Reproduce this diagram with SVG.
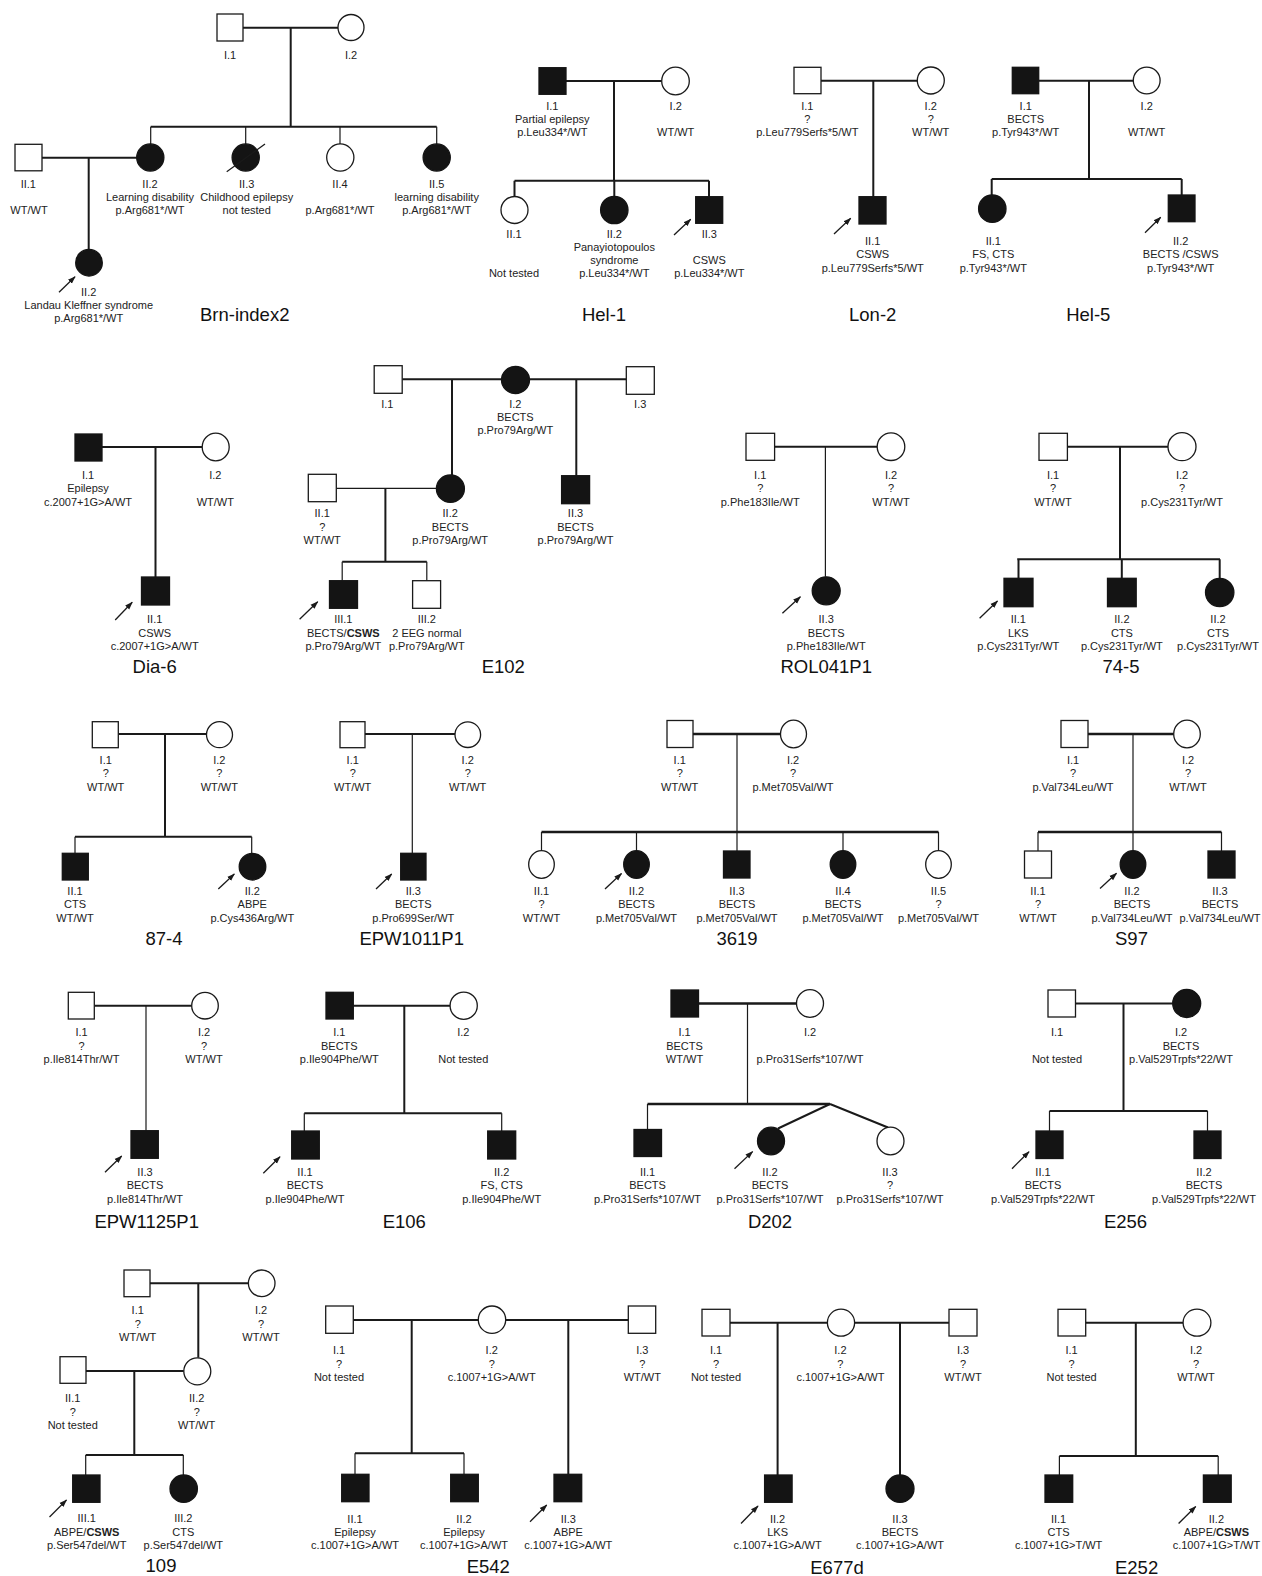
<svg xmlns="http://www.w3.org/2000/svg" width="1262" height="1576" viewBox="0 0 1262 1576">
<style>
.o{fill:#fff;stroke:#1a1a1a;stroke-width:1.3}
.f{fill:#141414;stroke:#141414;stroke-width:1.3}
.k{fill:none;stroke:#1a1a1a;stroke-width:2}
.h{fill:none;stroke:#1a1a1a;stroke-width:1.2}
.w{fill:none;stroke:#1a1a1a;stroke-width:2.6}
.a{fill:none;stroke:#1a1a1a;stroke-width:1.3;marker-end:url(#ah)}
.lb{font-family:"Liberation Sans",Arial,sans-serif;font-size:11px;fill:#222;text-anchor:middle}
.ti{font-family:"Liberation Sans",Arial,sans-serif;font-size:18.5px;fill:#111;text-anchor:middle}
.b{font-weight:bold}
</style>
<defs>
<marker id="ah" viewBox="0 0 10 10" refX="9" refY="5" markerWidth="8" markerHeight="8" markerUnits="userSpaceOnUse" orient="auto"><path d="M0,1.5 L10,5 L0,8.5 z" fill="#1a1a1a"/></marker>
</defs>
<rect width="1262" height="1576" fill="#fff"/>

<g id="connectors">
<!-- Brn-index2 -->
<path class="k" d="M243 27.7H338M290.7 27.7V126.7M150.7 126.7H436.7M42 157.7H137M88.7 157.7V249.4"/>
<path class="h" d="M150.7 126.7V144M245.7 126.7V144M340 126.7V144M436.7 126.7V144"/>
<line class="a" x1="59" y1="292.3" x2="75" y2="276.7"/>
<!-- Hel-1 -->
<path class="k" d="M566 81H661.7M614 81V180.7M514.5 180.7H709M514.5 180.7V196.5M614.3 180.7V196.3M709 180.7V196.7"/>
<line class="a" x1="674" y1="235" x2="690.7" y2="219.3"/>
<!-- Lon-2 -->
<path class="k" d="M821 80.7H917.3M873.3 80.7V196.7"/>
<line class="a" x1="834" y1="234" x2="850.7" y2="218.3"/>
<!-- Hel-5 -->
<path class="k" d="M1038.7 80.7H1133.3M1089 80.7V179M991.7 179H1181.7M991.7 179V195M1181.7 179V195"/>
<line class="a" x1="1145" y1="232.7" x2="1160.7" y2="217.3"/>
<!-- Dia-6 -->
<path class="k" d="M102 447H202M155.5 447V577"/>
<line class="a" x1="115.2" y1="620" x2="132.2" y2="602.3"/>
<!-- E102 -->
<path class="k" d="M402.2 379.3H501.5M529.5 379.3H626.3M452 379.3V475M576.3 379.3V475.7M385.4 488.3V561.7M342.2 561.7H426.8"/>
<path class="h" d="M336.3 488.3H436.4M342.2 561.7V580.7M426.8 561.7V580.7"/>
<line class="a" x1="299.6" y1="619.3" x2="317.7" y2="601.7"/>
<!-- ROL041P1 -->
<path class="k" d="M774.6 446.7H877.2"/>
<path class="h" d="M825.4 446.7V576.8"/>
<line class="a" x1="782.4" y1="613.3" x2="800.4" y2="596.7"/>
<!-- 74-5 -->
<path class="k" d="M1067.4 446.7H1168M1120 446.7V559.3M1017.2 559.3H1220M1018.5 559.3V578.3M1121.8 559.3V578.3M1219.7 559.3V578.3"/>
<line class="a" x1="979.6" y1="618.3" x2="997.5" y2="601"/>
<!-- 87-4 -->
<path class="k" d="M118.3 734H206.5M165 734V836.7M75 836.7H251.7"/>
<path class="h" d="M75 836.7V853.3M251.7 836.7V853.4"/>
<line class="a" x1="218.3" y1="889" x2="234.3" y2="874"/>
<!-- EPW1011P1 -->
<path class="k" d="M365 734H455"/>
<path class="h" d="M412.3 734V853.3"/>
<line class="a" x1="376" y1="889" x2="391.7" y2="874"/>
<!-- 3619 -->
<path class="w" d="M693 734H780.5M541.5 832H938.5"/>
<path class="h" d="M737 734V832M541.5 832V850.7M636.5 832V850.7M737 832V851M843 832V850.7M938.5 832V850.7"/>
<line class="a" x1="605" y1="889" x2="621.5" y2="873.5"/>
<!-- S97 -->
<path class="w" d="M1088 734H1173.7M1038 832H1221.5"/>
<path class="h" d="M1133 734V832M1038 832V851M1133 832V850.7M1221.5 832V851"/>
<line class="a" x1="1100" y1="888.5" x2="1116.5" y2="873.3"/>
<!-- EPW1125P1 -->
<path class="k" d="M94.3 1005.7H191.7"/>
<path class="h" d="M146 1005.7V1130.7"/>
<line class="a" x1="105" y1="1172.3" x2="121.7" y2="1156"/>
<!-- E106 -->
<path class="k" d="M353.3 1005.7H450M404.3 1005.7V1113.3M304.3 1113.3H501.7"/>
<path class="h" d="M304.3 1113.3V1131M501.7 1113.3V1131"/>
<line class="a" x1="263.3" y1="1173.3" x2="280" y2="1156.7"/>
<!-- D202 -->
<path class="w" d="M698.5 1003.5H796.5M647.5 1104H830"/>
<path class="h" d="M747.5 1003.5V1104M647.5 1104V1129.5"/>
<path class="k" d="M830 1104L778 1128.5M830 1104L888 1127.5"/>
<line class="a" x1="734.5" y1="1168.7" x2="752.6" y2="1151.6"/>
<!-- E256 -->
<path class="k" d="M1075.5 1003.5H1172.7M1123.5 1003.5V1111M1049.5 1111H1207.5"/>
<path class="h" d="M1049.5 1111V1131M1207.5 1111V1131"/>
<line class="a" x1="1012" y1="1168.7" x2="1029" y2="1151.7"/>
<!-- 109 -->
<path class="k" d="M150 1283.3H248.4M198.3 1283.3V1357.8M86 1371H183.8M134.3 1371V1455M85.7 1455H183.3"/>
<path class="h" d="M85.7 1455V1475M183.3 1455V1475"/>
<line class="a" x1="49.5" y1="1517" x2="66.5" y2="1500"/>
<!-- E542 -->
<path class="k" d="M353.3 1320H478.3M505.7 1320H628.3M411.7 1320V1453.3M355 1453.3H464M568.3 1320V1474.3"/>
<path class="h" d="M355 1453.3V1474.3M464 1453.3V1474.3"/>
<line class="a" x1="530" y1="1521.7" x2="546.7" y2="1505"/>
<!-- E677d -->
<path class="k" d="M730 1322.7H827.4M854.6 1322.7H949M777.6 1322.7V1475M900 1322.7V1475"/>
<line class="a" x1="741" y1="1523.5" x2="758" y2="1506"/>
<!-- E252 -->
<path class="k" d="M1085.7 1322.7H1183M1135.8 1322.7V1456M1059.4 1456H1218.2"/>
<path class="h" d="M1059.4 1456V1475M1218.2 1456V1475"/>
<line class="a" x1="1178.6" y1="1523.5" x2="1195.7" y2="1506.5"/>
</g>

<!-- ===== Brn-index2 ===== -->
<g id="brn-I1"><rect class="o" x="217" y="14" width="26" height="27"/><text class="lb"><tspan x="230" y="58.7">I.1</tspan></text></g>
<g id="brn-I2"><circle class="o" cx="351" cy="27.5" r="13"/><text class="lb"><tspan x="351" y="58.7">I.2</tspan></text></g>
<g id="brn-II1"><rect class="o" x="15" y="144.3" width="27" height="26.5"/><text class="lb"><tspan x="28.3" y="187.7">II.1</tspan><tspan x="29" y="214.3">WT/WT</tspan></text></g>
<g id="brn-II2"><circle class="f" cx="150.3" cy="157.5" r="13.6"/><text class="lb"><tspan x="150" y="187.7">II.2</tspan><tspan x="150" y="201">Learning disability</tspan><tspan x="150" y="214.3">p.Arg681*/WT</tspan></text></g>
<g id="brn-II3"><circle class="f" cx="245.7" cy="157.5" r="13.6"/><line class="h" x1="226.7" y1="171.7" x2="265" y2="144"/><text class="lb"><tspan x="246.7" y="187.7">II.3</tspan><tspan x="246.7" y="201">Childhood epilepsy</tspan><tspan x="246.7" y="214.3">not tested</tspan></text></g>
<g id="brn-II4"><circle class="o" cx="340.3" cy="157.5" r="13.6"/><text class="lb"><tspan x="340" y="187.7">II.4</tspan><tspan x="340" y="214.3">p.Arg681*/WT</tspan></text></g>
<g id="brn-II5"><circle class="f" cx="436.7" cy="157.5" r="13.6"/><text class="lb"><tspan x="436.7" y="187.7">II.5</tspan><tspan x="436.7" y="201">learning disability</tspan><tspan x="436.7" y="214.3">p.Arg681*/WT</tspan></text></g>
<g id="brn-child-II2"><circle class="f" cx="89" cy="262.7" r="13.3"/><text class="lb"><tspan x="88.7" y="295.7">II.2</tspan><tspan x="88.7" y="309">Landau Kleffner syndrome</tspan><tspan x="88.7" y="322.3">p.Arg681*/WT</tspan></text></g>
<text class="ti" x="244.7" y="320.7">Brn-index2</text>

<!-- ===== Hel-1 ===== -->
<g id="hel1-I1"><rect class="f" x="539" y="67.7" width="27" height="26.6"/><text class="lb"><tspan x="552.3" y="109.7">I.1</tspan><tspan x="552.3" y="122.7">Partial epilepsy</tspan><tspan x="552.3" y="135.7">p.Leu334*/WT</tspan></text></g>
<g id="hel1-I2"><circle class="o" cx="675.5" cy="81" r="13.8"/><text class="lb"><tspan x="675.7" y="109.7">I.2</tspan><tspan x="675.7" y="135.7">WT/WT</tspan></text></g>
<g id="hel1-II1"><circle class="o" cx="514.5" cy="210" r="13.5"/><text class="lb"><tspan x="514" y="238.3">II.1</tspan><tspan x="514" y="277.3">Not tested</tspan></text></g>
<g id="hel1-II2"><circle class="f" cx="614.3" cy="210" r="13.7"/><text class="lb"><tspan x="614.3" y="238.3">II.2</tspan><tspan x="614.3" y="251.3">Panayiotopoulos</tspan><tspan x="614.3" y="264.3">syndrome</tspan><tspan x="614.3" y="277.3">p.Leu334*/WT</tspan></text></g>
<g id="hel1-II3"><rect class="f" x="695.7" y="196.7" width="27" height="26.6"/><text class="lb"><tspan x="709.3" y="238.3">II.3</tspan><tspan x="709.3" y="264.3">CSWS</tspan><tspan x="709.3" y="277.3">p.Leu334*/WT</tspan></text></g>
<text class="ti" x="604" y="320.7">Hel-1</text>

<!-- ===== Lon-2 ===== -->
<g id="lon2-I1"><rect class="o" x="794" y="67.3" width="27" height="26.4"/><text class="lb"><tspan x="807.3" y="110">I.1</tspan><tspan x="807.3" y="123">?</tspan><tspan x="807.3" y="136">p.Leu779Serfs*5/WT</tspan></text></g>
<g id="lon2-I2"><circle class="o" cx="930.8" cy="80.5" r="13.5"/><text class="lb"><tspan x="930.7" y="110">I.2</tspan><tspan x="930.7" y="123">?</tspan><tspan x="930.7" y="136">WT/WT</tspan></text></g>
<g id="lon2-II1"><rect class="f" x="859" y="196.7" width="27" height="27.3"/><text class="lb"><tspan x="872.7" y="245">II.1</tspan><tspan x="872.7" y="258.3">CSWS</tspan><tspan x="872.7" y="271.7">p.Leu779Serfs*5/WT</tspan></text></g>
<text class="ti" x="872.7" y="320.7">Lon-2</text>

<!-- ===== Hel-5 ===== -->
<g id="hel5-I1"><rect class="f" x="1012.3" y="67.3" width="26.4" height="26.4"/><text class="lb"><tspan x="1025.7" y="110">I.1</tspan><tspan x="1025.7" y="123">BECTS</tspan><tspan x="1025.7" y="136">p.Tyr943*/WT</tspan></text></g>
<g id="hel5-I2"><circle class="o" cx="1146.7" cy="80.5" r="13.4"/><text class="lb"><tspan x="1146.7" y="110">I.2</tspan><tspan x="1146.7" y="136">WT/WT</tspan></text></g>
<g id="hel5-II1"><circle class="f" cx="992.3" cy="208.7" r="13.7"/><text class="lb"><tspan x="993.3" y="245">II.1</tspan><tspan x="993.3" y="258.3">FS, CTS</tspan><tspan x="993.3" y="271.7">p.Tyr943*/WT</tspan></text></g>
<g id="hel5-II2"><rect class="f" x="1168.3" y="195" width="26.7" height="26.7"/><text class="lb"><tspan x="1180.7" y="245">II.2</tspan><tspan x="1180.7" y="258.3">BECTS /CSWS</tspan><tspan x="1180.7" y="271.7">p.Tyr943*/WT</tspan></text></g>
<text class="ti" x="1088.3" y="320.7">Hel-5</text>

<!-- ===== Dia-6 ===== -->
<g id="dia6-I1"><rect class="f" x="75" y="434" width="27" height="27"/><text class="lb"><tspan x="88" y="479">I.1</tspan><tspan x="88" y="492.3">Epilepsy</tspan><tspan x="88" y="505.7">c.2007+1G&gt;A/WT</tspan></text></g>
<g id="dia6-I2"><ellipse class="o" cx="215.7" cy="447" rx="13.5" ry="13.8"/><text class="lb"><tspan x="215.3" y="479">I.2</tspan><tspan x="215.3" y="505.7">WT/WT</tspan></text></g>
<g id="dia6-II1"><rect class="f" x="141.5" y="577" width="28" height="28"/><text class="lb"><tspan x="154.7" y="623">II.1</tspan><tspan x="154.7" y="636.5">CSWS</tspan><tspan x="154.7" y="650">c.2007+1G&gt;A/WT</tspan></text></g>
<text class="ti" x="154.7" y="673.3">Dia-6</text>

<!-- ===== E102 ===== -->
<g id="e102-I1"><rect class="o" x="374.2" y="365.7" width="28" height="27.6"/><text class="lb"><tspan x="387.3" y="407.7">I.1</tspan></text></g>
<g id="e102-I2"><ellipse class="f" cx="515.5" cy="380" rx="14" ry="13.5"/><text class="lb"><tspan x="515.3" y="407.7">I.2</tspan><tspan x="515.3" y="421">BECTS</tspan><tspan x="515.3" y="434.3">p.Pro79Arg/WT</tspan></text></g>
<g id="e102-I3"><rect class="o" x="626.3" y="366.7" width="28" height="27.6"/><text class="lb"><tspan x="640.2" y="407.7">I.3</tspan></text></g>
<g id="e102-II1"><rect class="o" x="308.3" y="474.3" width="28" height="27.4"/><text class="lb"><tspan x="322.2" y="517.3">II.1</tspan><tspan x="322.2" y="530.7">?</tspan><tspan x="322.2" y="544">WT/WT</tspan></text></g>
<g id="e102-II2"><ellipse class="f" cx="450.4" cy="488.7" rx="14" ry="13.7"/><text class="lb"><tspan x="450.2" y="517.3">II.2</tspan><tspan x="450.2" y="530.7">BECTS</tspan><tspan x="450.2" y="544">p.Pro79Arg/WT</tspan></text></g>
<g id="e102-II3"><rect class="f" x="561.6" y="475.7" width="28" height="28"/><text class="lb"><tspan x="575.5" y="517.3">II.3</tspan><tspan x="575.5" y="530.7">BECTS</tspan><tspan x="575.5" y="544">p.Pro79Arg/WT</tspan></text></g>
<g id="e102-III1"><rect class="f" x="329.5" y="580.7" width="28" height="27.6"/><text class="lb"><tspan x="343.3" y="623.3">III.1</tspan><tspan x="343.3" y="636.7">BECTS/<tspan class="b">CSWS</tspan></tspan><tspan x="343.3" y="650">p.Pro79Arg/WT</tspan></text></g>
<g id="e102-III2"><rect class="o" x="412.6" y="580.7" width="28" height="27.6"/><text class="lb"><tspan x="426.8" y="623.3">III.2</tspan><tspan x="426.8" y="636.7">2 EEG normal</tspan><tspan x="426.8" y="650">p.Pro79Arg/WT</tspan></text></g>
<text class="ti" x="503.3" y="673.3">E102</text>

<!-- ===== ROL041P1 ===== -->
<g id="rol-I1"><rect class="o" x="746" y="433.3" width="28.6" height="27"/><text class="lb"><tspan x="760.2" y="479">I.1</tspan><tspan x="760.2" y="492.3">?</tspan><tspan x="760.2" y="505.7">p.Phe183Ile/WT</tspan></text></g>
<g id="rol-I2"><circle class="o" cx="891" cy="446.7" r="13.8"/><text class="lb"><tspan x="891" y="479">I.2</tspan><tspan x="891" y="492.3">?</tspan><tspan x="891" y="505.7">WT/WT</tspan></text></g>
<g id="rol-II3"><circle class="f" cx="826.2" cy="590.8" r="14"/><text class="lb"><tspan x="826.2" y="623">II.3</tspan><tspan x="826.2" y="636.5">BECTS</tspan><tspan x="826.2" y="650">p.Phe183Ile/WT</tspan></text></g>
<text class="ti" x="826.2" y="673.3">ROL041P1</text>

<!-- ===== 74-5 ===== -->
<g id="p745-I1"><rect class="o" x="1039" y="433.3" width="28.4" height="27"/><text class="lb"><tspan x="1053" y="479">I.1</tspan><tspan x="1053" y="492.3">?</tspan><tspan x="1053" y="505.7">WT/WT</tspan></text></g>
<g id="p745-I2"><circle class="o" cx="1182" cy="446.7" r="14"/><text class="lb"><tspan x="1182" y="479">I.2</tspan><tspan x="1182" y="492.3">?</tspan><tspan x="1182" y="505.7">p.Cys231Tyr/WT</tspan></text></g>
<g id="p745-II1"><rect class="f" x="1004" y="578.3" width="29" height="28.4"/><text class="lb"><tspan x="1018.3" y="623">II.1</tspan><tspan x="1018.3" y="636.5">LKS</tspan><tspan x="1018.3" y="650">p.Cys231Tyr/WT</tspan></text></g>
<g id="p745-II2"><rect class="f" x="1107.5" y="578.3" width="28.7" height="28.4"/><text class="lb"><tspan x="1121.9" y="623">II.2</tspan><tspan x="1121.9" y="636.5">CTS</tspan><tspan x="1121.9" y="650">p.Cys231Tyr/WT</tspan></text></g>
<g id="p745-II2b"><ellipse class="f" cx="1219.7" cy="592.5" rx="14.2" ry="14.2"/><text class="lb"><tspan x="1218" y="623">II.2</tspan><tspan x="1218" y="636.5">CTS</tspan><tspan x="1218" y="650">p.Cys231Tyr/WT</tspan></text></g>
<text class="ti" x="1121" y="673.3">74-5</text>

<!-- ===== 87-4 ===== -->
<g id="p874-I1"><rect class="o" x="92.3" y="721.7" width="26" height="26"/><text class="lb"><tspan x="105.7" y="763.5">I.1</tspan><tspan x="105.7" y="777">?</tspan><tspan x="105.7" y="790.5">WT/WT</tspan></text></g>
<g id="p874-I2"><circle class="o" cx="219.5" cy="734.7" r="13"/><text class="lb"><tspan x="219.3" y="763.5">I.2</tspan><tspan x="219.3" y="777">?</tspan><tspan x="219.3" y="790.5">WT/WT</tspan></text></g>
<g id="p874-II1"><rect class="f" x="62.3" y="853.3" width="26" height="26.7"/><text class="lb"><tspan x="75" y="894.5">II.1</tspan><tspan x="75" y="908">CTS</tspan><tspan x="75" y="921.5">WT/WT</tspan></text></g>
<g id="p874-II2"><circle class="f" cx="252.5" cy="866.7" r="13.3"/><text class="lb"><tspan x="252.3" y="894.5">II.2</tspan><tspan x="252.3" y="908">ABPE</tspan><tspan x="252.3" y="921.5">p.Cys436Arg/WT</tspan></text></g>
<text class="ti" x="164" y="945">87-4</text>

<!-- ===== EPW1011P1 ===== -->
<g id="epw1011-I1"><rect class="o" x="340" y="721.7" width="25" height="26"/><text class="lb"><tspan x="352.7" y="763.5">I.1</tspan><tspan x="352.7" y="777">?</tspan><tspan x="352.7" y="790.5">WT/WT</tspan></text></g>
<g id="epw1011-I2"><circle class="o" cx="467.8" cy="734.7" r="12.8"/><text class="lb"><tspan x="467.7" y="763.5">I.2</tspan><tspan x="467.7" y="777">?</tspan><tspan x="467.7" y="790.5">WT/WT</tspan></text></g>
<g id="epw1011-II3"><rect class="f" x="400.7" y="853.3" width="25.3" height="26.7"/><text class="lb"><tspan x="413.3" y="894.5">II.3</tspan><tspan x="413.3" y="908">BECTS</tspan><tspan x="413.3" y="921.5">p.Pro699Ser/WT</tspan></text></g>
<text class="ti" x="411.7" y="945">EPW1011P1</text>

<!-- ===== 3619 ===== -->
<g id="p3619-I1"><rect class="o" x="667" y="720.5" width="26" height="27"/><text class="lb"><tspan x="679.7" y="763.5">I.1</tspan><tspan x="679.7" y="777">?</tspan><tspan x="679.7" y="790.5">WT/WT</tspan></text></g>
<g id="p3619-I2"><ellipse class="o" cx="793.5" cy="734" rx="13" ry="13.8"/><text class="lb"><tspan x="793" y="763.5">I.2</tspan><tspan x="793" y="777">?</tspan><tspan x="793" y="790.5">p.Met705Val/WT</tspan></text></g>
<g id="p3619-II1"><ellipse class="o" cx="541.5" cy="864.5" rx="12.8" ry="13.8"/><text class="lb"><tspan x="541.5" y="894.5">II.1</tspan><tspan x="541.5" y="908">?</tspan><tspan x="541.5" y="921.5">WT/WT</tspan></text></g>
<g id="p3619-II2"><ellipse class="f" cx="636.5" cy="864.5" rx="12.8" ry="13.8"/><text class="lb"><tspan x="636.5" y="894.5">II.2</tspan><tspan x="636.5" y="908">BECTS</tspan><tspan x="636.5" y="921.5">p.Met705Val/WT</tspan></text></g>
<g id="p3619-II3"><rect class="f" x="723.5" y="851" width="26.5" height="27"/><text class="lb"><tspan x="737" y="894.5">II.3</tspan><tspan x="737" y="908">BECTS</tspan><tspan x="737" y="921.5">p.Met705Val/WT</tspan></text></g>
<g id="p3619-II4"><ellipse class="f" cx="843" cy="864.5" rx="12.8" ry="13.8"/><text class="lb"><tspan x="843" y="894.5">II.4</tspan><tspan x="843" y="908">BECTS</tspan><tspan x="843" y="921.5">p.Met705Val/WT</tspan></text></g>
<g id="p3619-II5"><ellipse class="o" cx="938.5" cy="864.5" rx="12.8" ry="13.8"/><text class="lb"><tspan x="938.5" y="894.5">II.5</tspan><tspan x="938.5" y="908">?</tspan><tspan x="938.5" y="921.5">p.Met705Val/WT</tspan></text></g>
<text class="ti" x="737" y="945">3619</text>

<!-- ===== S97 ===== -->
<g id="s97-I1"><rect class="o" x="1061" y="720.5" width="27" height="27"/><text class="lb"><tspan x="1073" y="763.5">I.1</tspan><tspan x="1073" y="777">?</tspan><tspan x="1073" y="790.5">p.Val734Leu/WT</tspan></text></g>
<g id="s97-I2"><ellipse class="o" cx="1187" cy="734" rx="13.3" ry="13.8"/><text class="lb"><tspan x="1188" y="763.5">I.2</tspan><tspan x="1188" y="777">?</tspan><tspan x="1188" y="790.5">WT/WT</tspan></text></g>
<g id="s97-II1"><rect class="o" x="1024.5" y="851" width="27" height="27"/><text class="lb"><tspan x="1038" y="894.5">II.1</tspan><tspan x="1038" y="908">?</tspan><tspan x="1038" y="921.5">WT/WT</tspan></text></g>
<g id="s97-II2"><ellipse class="f" cx="1133" cy="864.5" rx="12.8" ry="13.8"/><text class="lb"><tspan x="1132" y="894.5">II.2</tspan><tspan x="1132" y="908">BECTS</tspan><tspan x="1132" y="921.5">p.Val734Leu/WT</tspan></text></g>
<g id="s97-II3"><rect class="f" x="1208" y="851" width="27" height="27"/><text class="lb"><tspan x="1220" y="894.5">II.3</tspan><tspan x="1220" y="908">BECTS</tspan><tspan x="1220" y="921.5">p.Val734Leu/WT</tspan></text></g>
<text class="ti" x="1131.5" y="945">S97</text>

<!-- ===== EPW1125P1 ===== -->
<g id="epw1125-I1"><rect class="o" x="68.3" y="992.3" width="26" height="26.7"/><text class="lb"><tspan x="81.5" y="1036">I.1</tspan><tspan x="81.5" y="1049.5">?</tspan><tspan x="81.5" y="1063">p.Ile814Thr/WT</tspan></text></g>
<g id="epw1125-I2"><circle class="o" cx="205" cy="1005.7" r="13.3"/><text class="lb"><tspan x="204" y="1036">I.2</tspan><tspan x="204" y="1049.5">?</tspan><tspan x="204" y="1063">WT/WT</tspan></text></g>
<g id="epw1125-II3"><rect class="f" x="131" y="1130.7" width="27.3" height="27.6"/><text class="lb"><tspan x="145" y="1175.5">II.3</tspan><tspan x="145" y="1189">BECTS</tspan><tspan x="145" y="1202.5">p.Ile814Thr/WT</tspan></text></g>
<text class="ti" x="146.7" y="1228.3">EPW1125P1</text>

<!-- ===== E106 ===== -->
<g id="e106-I1"><rect class="f" x="326" y="992.3" width="27.3" height="26.7"/><text class="lb"><tspan x="339.3" y="1036">I.1</tspan><tspan x="339.3" y="1049.5">BECTS</tspan><tspan x="339.3" y="1063">p.Ile904Phe/WT</tspan></text></g>
<g id="e106-I2"><circle class="o" cx="463.7" cy="1005.7" r="13.6"/><text class="lb"><tspan x="463.3" y="1036">I.2</tspan><tspan x="463.3" y="1063">Not tested</tspan></text></g>
<g id="e106-II1"><rect class="f" x="291.7" y="1131" width="27.6" height="28"/><text class="lb"><tspan x="305" y="1175.5">II.1</tspan><tspan x="305" y="1189">BECTS</tspan><tspan x="305" y="1202.5">p.Ile904Phe/WT</tspan></text></g>
<g id="e106-II2"><rect class="f" x="487.7" y="1131" width="28" height="28"/><text class="lb"><tspan x="501.7" y="1175.5">II.2</tspan><tspan x="501.7" y="1189">FS, CTS</tspan><tspan x="501.7" y="1202.5">p.Ile904Phe/WT</tspan></text></g>
<text class="ti" x="404.3" y="1228.3">E106</text>

<!-- ===== D202 ===== -->
<g id="d202-I1"><rect class="f" x="671" y="990" width="27.5" height="27"/><text class="lb"><tspan x="684.5" y="1036">I.1</tspan><tspan x="684.5" y="1049.5">BECTS</tspan><tspan x="684.5" y="1063">WT/WT</tspan></text></g>
<g id="d202-I2"><ellipse class="o" cx="810" cy="1003.5" rx="13.5" ry="13.8"/><text class="lb"><tspan x="810" y="1036">I.2</tspan><tspan x="810" y="1063">p.Pro31Serfs*107/WT</tspan></text></g>
<g id="d202-II1"><rect class="f" x="634" y="1129.5" width="27.5" height="27"/><text class="lb"><tspan x="647.6" y="1175.5">II.1</tspan><tspan x="647.6" y="1189">BECTS</tspan><tspan x="647.6" y="1202.5">p.Pro31Serfs*107/WT</tspan></text></g>
<g id="d202-II2"><ellipse class="f" cx="771" cy="1141" rx="13.5" ry="13.8"/><text class="lb"><tspan x="770" y="1175.5">II.2</tspan><tspan x="770" y="1189">BECTS</tspan><tspan x="770" y="1202.5">p.Pro31Serfs*107/WT</tspan></text></g>
<g id="d202-II3"><ellipse class="o" cx="890.5" cy="1141" rx="13.5" ry="13.8"/><text class="lb"><tspan x="890" y="1175.5">II.3</tspan><tspan x="890" y="1189">?</tspan><tspan x="890" y="1202.5">p.Pro31Serfs*107/WT</tspan></text></g>
<text class="ti" x="770" y="1228.3">D202</text>

<!-- ===== E256 ===== -->
<g id="e256-I1"><rect class="o" x="1048" y="990" width="27.5" height="27"/><text class="lb"><tspan x="1057" y="1036">I.1</tspan><tspan x="1057" y="1063">Not tested</tspan></text></g>
<g id="e256-I2"><ellipse class="f" cx="1186.7" cy="1003.5" rx="14" ry="14"/><text class="lb"><tspan x="1181" y="1036">I.2</tspan><tspan x="1181" y="1049.5">BECTS</tspan><tspan x="1181" y="1063">p.Val529Trpfs*22/WT</tspan></text></g>
<g id="e256-II1"><rect class="f" x="1036" y="1131" width="27" height="27.5"/><text class="lb"><tspan x="1043" y="1175.5">II.1</tspan><tspan x="1043" y="1189">BECTS</tspan><tspan x="1043" y="1202.5">p.Val529Trpfs*22/WT</tspan></text></g>
<g id="e256-II2"><rect class="f" x="1194" y="1131" width="27" height="27.5"/><text class="lb"><tspan x="1204" y="1175.5">II.2</tspan><tspan x="1204" y="1189">BECTS</tspan><tspan x="1204" y="1202.5">p.Val529Trpfs*22/WT</tspan></text></g>
<text class="ti" x="1125.5" y="1228.3">E256</text>

<!-- ===== 109 ===== -->
<g id="p109-I1"><rect class="o" x="124" y="1270" width="26" height="26.7"/><text class="lb"><tspan x="137.7" y="1314">I.1</tspan><tspan x="137.7" y="1327.5">?</tspan><tspan x="137.7" y="1341">WT/WT</tspan></text></g>
<g id="p109-I2"><circle class="o" cx="261.7" cy="1283.3" r="13.3"/><text class="lb"><tspan x="261" y="1314">I.2</tspan><tspan x="261" y="1327.5">?</tspan><tspan x="261" y="1341">WT/WT</tspan></text></g>
<g id="p109-II1"><rect class="o" x="60" y="1356.7" width="26" height="26.6"/><text class="lb"><tspan x="72.7" y="1402">II.1</tspan><tspan x="72.7" y="1415.5">?</tspan><tspan x="72.7" y="1429">Not tested</tspan></text></g>
<g id="p109-II2"><circle class="o" cx="197.3" cy="1371.3" r="13.5"/><text class="lb"><tspan x="196.7" y="1402">II.2</tspan><tspan x="196.7" y="1415.5">?</tspan><tspan x="196.7" y="1429">WT/WT</tspan></text></g>
<g id="p109-III1"><rect class="f" x="72.7" y="1475" width="27.3" height="27.3"/><text class="lb"><tspan x="86.7" y="1522">III.1</tspan><tspan x="86.7" y="1535.5">ABPE/<tspan class="b">CSWS</tspan></tspan><tspan x="86.7" y="1549">p.Ser547del/WT</tspan></text></g>
<g id="p109-III2"><circle class="f" cx="183.7" cy="1488.7" r="13.7"/><text class="lb"><tspan x="183.3" y="1522">III.2</tspan><tspan x="183.3" y="1535.5">CTS</tspan><tspan x="183.3" y="1549">p.Ser547del/WT</tspan></text></g>
<text class="ti" x="161" y="1571.7">109</text>

<!-- ===== E542 ===== -->
<g id="e542-I1"><rect class="o" x="325.7" y="1306" width="27.6" height="27.3"/><text class="lb"><tspan x="339" y="1354">I.1</tspan><tspan x="339" y="1367.5">?</tspan><tspan x="339" y="1381">Not tested</tspan></text></g>
<g id="e542-I2"><circle class="o" cx="492" cy="1319.7" r="13.7"/><text class="lb"><tspan x="491.7" y="1354">I.2</tspan><tspan x="491.7" y="1367.5">?</tspan><tspan x="491.7" y="1381">c.1007+1G&gt;A/WT</tspan></text></g>
<g id="e542-I3"><rect class="o" x="628.3" y="1306" width="27.4" height="27.3"/><text class="lb"><tspan x="642.3" y="1354">I.3</tspan><tspan x="642.3" y="1367.5">?</tspan><tspan x="642.3" y="1381">WT/WT</tspan></text></g>
<g id="e542-II1"><rect class="f" x="341.7" y="1474.3" width="27.3" height="27.4"/><text class="lb"><tspan x="355" y="1523">II.1</tspan><tspan x="355" y="1536">Epilepsy</tspan><tspan x="355" y="1549">c.1007+1G&gt;A/WT</tspan></text></g>
<g id="e542-II2"><rect class="f" x="450.7" y="1474.3" width="27.6" height="27.4"/><text class="lb"><tspan x="464" y="1523">II.2</tspan><tspan x="464" y="1536">Epilepsy</tspan><tspan x="464" y="1549">c.1007+1G&gt;A/WT</tspan></text></g>
<g id="e542-II3"><rect class="f" x="554" y="1474.3" width="27.7" height="27.4"/><text class="lb"><tspan x="568.3" y="1523">II.3</tspan><tspan x="568.3" y="1536">ABPE</tspan><tspan x="568.3" y="1549">c.1007+1G&gt;A/WT</tspan></text></g>
<text class="ti" x="488.3" y="1573.3">E542</text>

<!-- ===== E677d ===== -->
<g id="e677-I1"><rect class="o" x="702" y="1309.3" width="28" height="26.7"/><text class="lb"><tspan x="716" y="1354">I.1</tspan><tspan x="716" y="1367.5">?</tspan><tspan x="716" y="1381">Not tested</tspan></text></g>
<g id="e677-I2"><ellipse class="o" cx="841" cy="1322.7" rx="13.6" ry="13.5"/><text class="lb"><tspan x="840.4" y="1354">I.2</tspan><tspan x="840.4" y="1367.5">?</tspan><tspan x="840.4" y="1381">c.1007+1G&gt;A/WT</tspan></text></g>
<g id="e677-I3"><rect class="o" x="949" y="1309.3" width="28" height="26.7"/><text class="lb"><tspan x="963" y="1354">I.3</tspan><tspan x="963" y="1367.5">?</tspan><tspan x="963" y="1381">WT/WT</tspan></text></g>
<g id="e677-II2"><rect class="f" x="764.6" y="1475" width="27.5" height="27.3"/><text class="lb"><tspan x="777.6" y="1523">II.2</tspan><tspan x="777.6" y="1536">LKS</tspan><tspan x="777.6" y="1549">c.1007+1G&gt;A/WT</tspan></text></g>
<g id="e677-II3"><ellipse class="f" cx="900" cy="1488.7" rx="14" ry="13.7"/><text class="lb"><tspan x="900" y="1523">II.3</tspan><tspan x="900" y="1536">BECTS</tspan><tspan x="900" y="1549">c.1007+1G&gt;A/WT</tspan></text></g>
<text class="ti" x="837" y="1574">E677d</text>

<!-- ===== E252 ===== -->
<g id="e252-I1"><rect class="o" x="1058" y="1309.3" width="27.7" height="26.7"/><text class="lb"><tspan x="1071.6" y="1354">I.1</tspan><tspan x="1071.6" y="1367.5">?</tspan><tspan x="1071.6" y="1381">Not tested</tspan></text></g>
<g id="e252-I2"><ellipse class="o" cx="1197" cy="1322.7" rx="13.9" ry="13.5"/><text class="lb"><tspan x="1196" y="1354">I.2</tspan><tspan x="1196" y="1367.5">?</tspan><tspan x="1196" y="1381">WT/WT</tspan></text></g>
<g id="e252-II1"><rect class="f" x="1045" y="1475" width="27.7" height="27.3"/><text class="lb"><tspan x="1058.6" y="1523">II.1</tspan><tspan x="1058.6" y="1536">CTS</tspan><tspan x="1058.6" y="1549">c.1007+1G&gt;T/WT</tspan></text></g>
<g id="e252-II2"><rect class="f" x="1203.4" y="1475" width="27.8" height="27.3"/><text class="lb"><tspan x="1216.4" y="1523">II.2</tspan><tspan x="1216.4" y="1536">ABPE/<tspan class="b">CSWS</tspan></tspan><tspan x="1216.4" y="1549">c.1007+1G&gt;T/WT</tspan></text></g>
<text class="ti" x="1136.6" y="1574">E252</text>
</svg>
